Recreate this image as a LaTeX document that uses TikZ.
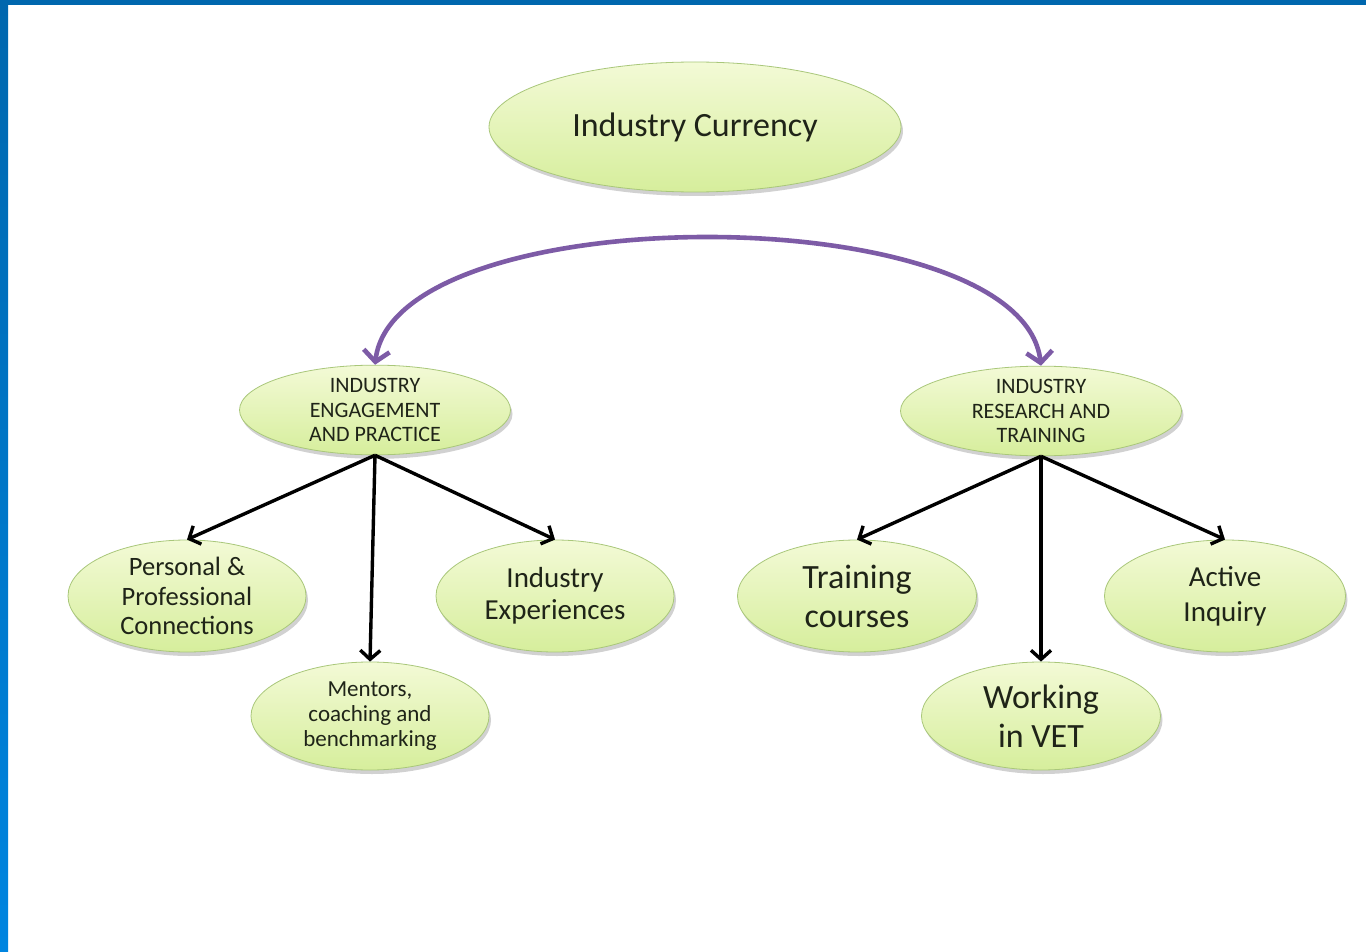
\documentclass[tikz,border=0pt]{standalone}
\usepackage{fontspec}
\setmainfont{Carlito}
\usetikzlibrary{shapes.geometric, arrows.meta, shadows}
\definecolor{bubbletop}{HTML}{F3FAD6}
\definecolor{bubblebottom}{HTML}{D6EE9C}
\definecolor{bubbleline}{HTML}{A9C77A}
\definecolor{bubbletext}{HTML}{1F2418}
\definecolor{arcpurple}{HTML}{7D5BA6}
\definecolor{framedark}{HTML}{0067AE}
\definecolor{framelight}{HTML}{0085E0}

\begin{document}
\begin{tikzpicture}[x=1pt, y=-1pt, >={Straight Barb[length=9pt, width=20pt]}]
  \tikzstyle{bubble} = [ellipse, draw=bubbleline, line width=0.8pt, top color=bubbletop, bottom color=bubblebottom, text=bubbletext, align=center, inner sep=0pt, drop shadow={shadow xshift=2pt, shadow yshift=-4pt, fill=black, opacity=0.18}]
  \tikzstyle{link} = [->, line width=3.4pt, black]
  \tikzstyle{swing} = [{Straight Barb[length=11pt, width=26pt]}-{Straight Barb[length=11pt, width=26pt]}, line width=4.6pt, arcpurple]
  \useasboundingbox (0,0) rectangle (1366,952);
  \fill[white] (0,0) rectangle (1366,952);
  \fill[top color=framedark, bottom color=framelight] (0,0) rectangle (8,952);
  \fill[framedark] (0,0) rectangle (1366,5);

  \node [bubble, minimum width=412pt, minimum height=130pt, font=\fontsize{34}{38}\selectfont] (currency) at (695,127) {Industry Currency};
  \node [bubble, minimum width=271pt, minimum height=75pt, font=\fontsize{22}{24.5}\selectfont] (engage) at (375,410) {INDUSTRY\\ENGAGEMENT\\AND PRACTICE};
  \node [bubble, minimum width=281pt, minimum height=77pt, font=\fontsize{22}{24.5}\selectfont] (research) at (1041,411) {INDUSTRY\\RESEARCH AND\\TRAINING};

  \node [bubble, minimum width=238pt, minimum height=112pt, font=\fontsize{26.5}{29.5}\selectfont] (personal) at (187,596) {Personal \&\\Professional\\Connections};
  \node [bubble, minimum width=238pt, minimum height=108pt, font=\fontsize{23}{25}\selectfont] (mentors) at (370,716) {Mentors,\\coaching and\\benchmarking};
  \node [bubble, minimum width=238pt, minimum height=112pt, font=\fontsize{29}{32}\selectfont] (experience) at (555,596) {Industry\\Experiences};
  \node [bubble, minimum width=239pt, minimum height=112pt, font=\fontsize{34}{39}\selectfont] (training) at (857,596) {Training\\courses};
  \node [bubble, minimum width=239pt, minimum height=108pt, font=\fontsize{34}{39}\selectfont] (working) at (1041,716) {Working\\in VET};
  \node [bubble, minimum width=241pt, minimum height=112pt, font=\fontsize{29}{35}\selectfont] (inquiry) at (1225,596) {Active\\Inquiry};

  \draw [swing] (engage.north) .. controls (395,196) and (1021,196) .. (research.north);

  \draw [link] (engage.south) -- (personal.north);
  \draw [link] (engage.south) -- (mentors.north);
  \draw [link] (engage.south) -- (experience.north);
  \draw [link] (research.south) -- (training.north);
  \draw [link] (research.south) -- (working.north);
  \draw [link] (research.south) -- (inquiry.north);
\end{tikzpicture}
\end{document}
